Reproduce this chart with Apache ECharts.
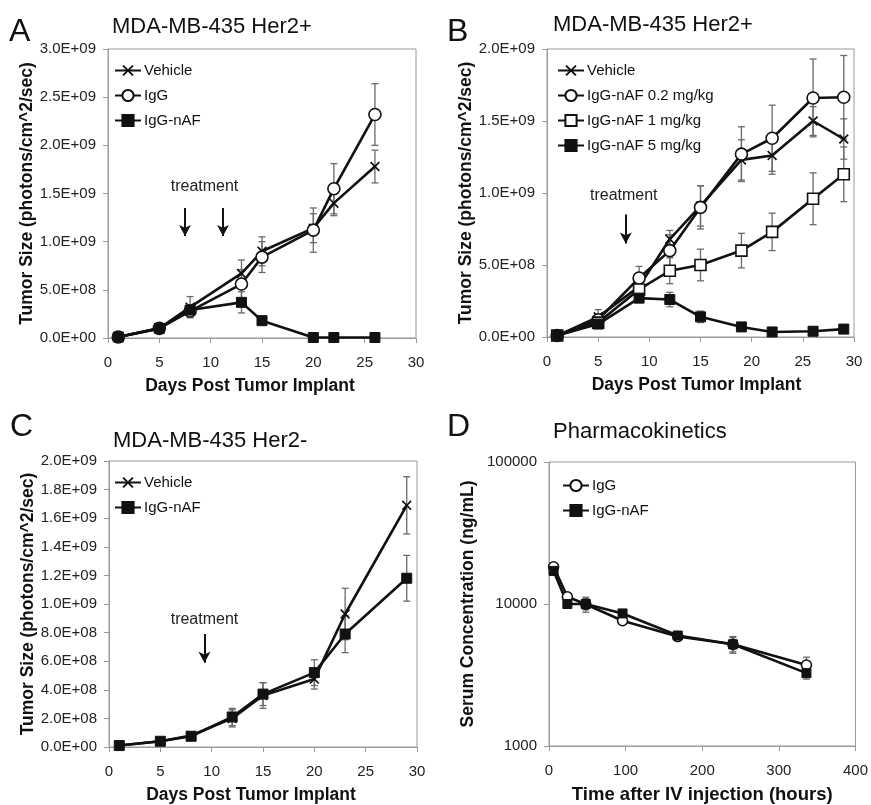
<!DOCTYPE html>
<html>
<head>
<meta charset="utf-8">
<script src="https://cdn.jsdelivr.net/npm/echarts@6/dist/echarts.min.js"></script>
<style>
  html, body { margin: 0; padding: 0; background: #fff; }
  #chart { width: 871px; height: 805px; }
</style>
</head>
<body>
<div id="chart"></div>
<script>
// A: MDA-MB-435 Her2+
const daysA = [1, 5, 8, 13, 15, 20, 22, 26];
const vehA = [0.01e9, 0.10e9, 0.32e9, 0.67e9, 0.90e9, 1.14e9, 1.40e9, 1.78e9];
const vehAErr = [0, 0.01e9, 0.11e9, 0.14e9, 0.15e9, 0.15e9, 0.13e9, 0.17e9];
const iggA = [0.01e9, 0.10e9, 0.28e9, 0.56e9, 0.84e9, 1.12e9, 1.55e9, 2.32e9];
const iggAErr = [0, 0.01e9, 0.06e9, 0.15e9, 0.16e9, 0.23e9, 0.26e9, 0.32e9];
const nafA = [0.01e9, 0.10e9, 0.29e9, 0.37e9, 0.18e9, 0.005e9, 0.005e9, 0.005e9];
const nafAErr = [0, 0.01e9, 0.03e9, 0.11e9, 0.02e9, 0, 0, 0];

// B: MDA-MB-435 Her2+, dose
const daysB = [1, 5, 9, 12, 15, 19, 22, 26, 29];
const vehB = [0.01e9, 0.14e9, 0.35e9, 0.68e9, 0.91e9, 1.23e9, 1.26e9, 1.50e9, 1.375e9];
const vehBErr = [0, 0.05e9, 0.08e9, 0.06e9, 0.14e9, 0.14e9, 0.13e9, 0.10e9, 0.14e9];
const d02B = [0.01e9, 0.12e9, 0.41e9, 0.60e9, 0.90e9, 1.27e9, 1.38e9, 1.66e9, 1.665e9];
const d02BErr = [0, 0.02e9, 0.08e9, 0.11e9, 0.15e9, 0.19e9, 0.23e9, 0.27e9, 0.29e9];
const d1B = [0.01e9, 0.10e9, 0.33e9, 0.46e9, 0.50e9, 0.60e9, 0.73e9, 0.96e9, 1.13e9];
const d1BErr = [0, 0.01e9, 0.04e9, 0.09e9, 0.11e9, 0.12e9, 0.13e9, 0.18e9, 0.19e9];
const d5B = [0.01e9, 0.09e9, 0.27e9, 0.26e9, 0.14e9, 0.07e9, 0.035e9, 0.04e9, 0.055e9];
const d5BErr = [0, 0.01e9, 0.03e9, 0.05e9, 0.04e9, 0.01e9, 0, 0, 0];

// C: MDA-MB-435 Her2-
const daysC = [1, 5, 8, 12, 15, 20, 23, 29];
const vehC = [0.01e9, 0.04e9, 0.08e9, 0.20e9, 0.36e9, 0.475e9, 0.93e9, 1.69e9];
const vehCErr = [0, 0.01e9, 0.01e9, 0.06e9, 0.09e9, 0.07e9, 0.18e9, 0.20e9];
const nafC = [0.01e9, 0.04e9, 0.075e9, 0.21e9, 0.37e9, 0.52e9, 0.79e9, 1.18e9];
const nafCErr = [0, 0.01e9, 0.01e9, 0.06e9, 0.08e9, 0.09e9, 0.13e9, 0.16e9];

// D: Pharmacokinetics
const hoursD = [6, 24, 48, 96, 168, 240, 336];
const iggD = [18300, 11250, 9950, 7620, 5900, 5200, 3720];
const iggDErr = [500, 400, 1200, 300, 300, 700, 500];
const nafD = [17100, 10000, 10000, 8580, 6000, 5200, 3260];
const nafDErr = [700, 400, 900, 400, 300, 600, 300];

// treatment arrows: [x, yFrom, yTo], label [x, y]
const arrowsA = [[7.5, 1.35e9, 1.06e9], [11.2, 1.35e9, 1.06e9]];
const labelA = [9.4, 1.57e9];
const arrowsB = [[7.7, 0.85e9, 0.65e9]];
const labelB = [7.5, 0.98e9];
const arrowsC = [[9.3, 0.79e9, 0.59e9]];
const labelC = [9.3, 0.89e9];

const FONT = '"Liberation Sans", Arial, sans-serif';
const X_SYM = 'path://M0,1.2L1.2,0L5,3.8L8.8,0L10,1.2L6.2,5L10,8.8L8.8,10L5,6.2L1.2,10L0,8.8L3.8,5Z';

function sci(v) {
  if (v === 0) return '0.0E+00';
  const e = Math.floor(Math.log10(Math.abs(v)) + 1e-9);
  const m = v / Math.pow(10, e);
  return m.toFixed(1) + 'E+' + (e < 10 ? '0' + e : e);
}

const grids = [
  { left: 108, top: 49, width: 308, height: 289 },
  { left: 547, top: 49, width: 307, height: 288 },
  { left: 109, top: 461, width: 308, height: 287 },
  { left: 549, top: 462, width: 310, height: 289 }
].map(g => Object.assign(g, { show: true, borderColor: '#9a9a9a', borderWidth: 1 }));

const NAME_STYLE = { fontFamily: FONT, fontWeight: 'bold', fontSize: 17.5, color: '#111' };
const LABEL_STYLE = { fontFamily: FONT, fontSize: 15, color: '#222' };

// shift: pixels to move the x axis name left of the plot centre
function xAx(gi, max, interval, name, shift, size) {
  return {
    type: 'value', gridIndex: gi, min: 0, max: max, interval: interval,
    name: name, nameLocation: 'middle', nameGap: 39,
    nameTextStyle: Object.assign({}, NAME_STYLE, { fontSize: size || 17.5, padding: [0, shift * 2, 0, 0] }),
    axisLine: { lineStyle: { color: '#9a9a9a' } },
    axisTick: { show: true, length: 5, lineStyle: { color: '#9a9a9a' } },
    axisLabel: Object.assign({ margin: 17 }, LABEL_STYLE),
    splitLine: { show: false }
  };
}
function yAx(gi, max, interval, name) {
  return {
    type: 'value', gridIndex: gi, min: 0, max: max, interval: interval,
    name: name, nameLocation: 'middle', nameGap: 72,
    nameTextStyle: NAME_STYLE,
    axisLine: { show: true, lineStyle: { color: '#9a9a9a' } },
    axisTick: { show: true, length: 5, lineStyle: { color: '#9a9a9a' } },
    axisLabel: Object.assign({ margin: 12, formatter: sci }, LABEL_STYLE),
    splitLine: { show: false }
  };
}

const MARK = {
  x: { symbol: X_SYM, symbolSize: 10, itemStyle: { color: '#111' } },
  circle: { symbol: 'circle', symbolSize: 12, itemStyle: { color: '#fff', borderColor: '#111', borderWidth: 1.6 } },
  open: { symbol: 'rect', symbolSize: 11, itemStyle: { color: '#fff', borderColor: '#111', borderWidth: 1.6 } },
  filled: { symbol: 'rect', symbolSize: 10, itemStyle: { color: '#111', borderColor: '#111', borderWidth: 1 } }
};

const series = [];
function addSeries(gi, name, xs, ys, errs, mark, extra) {
  series.push({
    type: 'custom', xAxisIndex: gi, yAxisIndex: gi, silent: true, z: 1,
    data: xs.map((x, i) => [x, ys[i], errs[i]]),
    encode: { x: 0, y: 1 },
    renderItem: function (params, api) {
      const x = api.value(0), y = api.value(1), e = api.value(2);
      if (!e) return null;
      const t = api.coord([x, y + e]), b = api.coord([x, y - e]);
      const w = 3.5, st = { stroke: '#6a6a6a', lineWidth: 1.3 };
      return { type: 'group', children: [
        { type: 'line', shape: { x1: t[0], y1: t[1], x2: b[0], y2: b[1] }, style: st },
        { type: 'line', shape: { x1: t[0] - w, y1: t[1], x2: t[0] + w, y2: t[1] }, style: st },
        { type: 'line', shape: { x1: b[0] - w, y1: b[1], x2: b[0] + w, y2: b[1] }, style: st }
      ] };
    }
  });
  series.push(Object.assign({
    type: 'line', name: name, xAxisIndex: gi, yAxisIndex: gi, z: 3,
    data: xs.map((x, i) => [x, ys[i]]),
    showAllSymbol: true,
    lineStyle: { color: '#111', width: 2.6 },
    symbol: mark.symbol, symbolSize: mark.symbolSize, itemStyle: mark.itemStyle,
    emphasis: { disabled: true }
  }, extra || {}));
}

function treatment(arrows, label) {
  return {
    markLine: {
      silent: true, animation: false, symbol: ['none', 'arrow'], symbolSize: [9, 11],
      lineStyle: { color: '#111', width: 2, type: 'solid' }, label: { show: false },
      data: arrows.map(a => [{ coord: [a[0], a[1]] }, { coord: [a[0], a[2]] }])
    },
    markPoint: {
      silent: true, animation: false, symbol: 'rect', symbolSize: 1,
      itemStyle: { color: 'rgba(0,0,0,0)' },
      label: { show: true, position: 'inside', formatter: 'treatment', fontFamily: FONT, fontSize: 16, color: '#222' },
      data: [{ coord: label }]
    }
  };
}

addSeries(0, 'Vehicle', daysA, vehA, vehAErr, MARK.x, treatment(arrowsA, labelA));
addSeries(0, 'IgG', daysA, iggA, iggAErr, MARK.circle);
addSeries(0, 'IgG-nAF', daysA, nafA, nafAErr, MARK.filled);

addSeries(1, 'Vehicle', daysB, vehB, vehBErr, MARK.x, treatment(arrowsB, labelB));
addSeries(1, 'IgG-nAF 0.2 mg/kg', daysB, d02B, d02BErr, MARK.circle);
addSeries(1, 'IgG-nAF 1 mg/kg', daysB, d1B, d1BErr, MARK.open);
addSeries(1, 'IgG-nAF 5 mg/kg', daysB, d5B, d5BErr, MARK.filled);

addSeries(2, 'Vehicle', daysC, vehC, vehCErr, MARK.x, treatment(arrowsC, labelC));
addSeries(2, 'IgG-nAF', daysC, nafC, nafCErr, MARK.filled);

addSeries(3, 'IgG', hoursD, iggD, iggDErr, Object.assign({}, MARK.circle, { symbolSize: 10 }));
addSeries(3, 'IgG-nAF', hoursD, nafD, nafDErr, Object.assign({}, MARK.filled, { symbolSize: 9 }));

function leg(left, top, names) {
  return {
    left: left, top: top, orient: 'vertical', itemWidth: 26, itemHeight: 14, itemGap: 10,
    selectedMode: false, data: names, padding: 0,
    textStyle: { fontFamily: FONT, fontSize: 15, color: '#111', padding: [0, 0, 0, -2] }
  };
}

function ttl(text, left, top, size) {
  return { text: text, left: left, top: top, padding: 0,
    textStyle: { fontFamily: FONT, fontWeight: 'normal', fontSize: size, color: '#111' } };
}

const chart = echarts.init(document.getElementById('chart'));
chart.setOption({
  animation: false,
  backgroundColor: '#fff',
  title: [
    ttl('A', 9, 16, 32), ttl('MDA-MB-435 Her2+', 112, 16, 22),
    ttl('B', 447, 16, 32), ttl('MDA-MB-435 Her2+', 553, 14, 22),
    ttl('C', 10, 411, 32), ttl('MDA-MB-435 Her2-', 113, 430, 22),
    ttl('D', 447, 411, 32), ttl('Pharmacokinetics', 553, 421, 22)
  ],
  legend: [
    leg(114, 63, ['Vehicle', 'IgG', 'IgG-nAF']),
    leg(557, 63, ['Vehicle', 'IgG-nAF 0.2 mg/kg', 'IgG-nAF 1 mg/kg', 'IgG-nAF 5 mg/kg']),
    leg(114, 475, ['Vehicle', 'IgG-nAF']),
    leg(562, 478, ['IgG', 'IgG-nAF'])
  ],
  grid: grids,
  xAxis: [
    xAx(0, 30, 5, 'Days Post Tumor Implant', 12),
    xAx(1, 30, 5, 'Days Post Tumor Implant', 4),
    xAx(2, 30, 5, 'Days Post Tumor Implant', 12),
    xAx(3, 400, 100, 'Time after IV injection (hours)', 0, 18.5)
  ],
  yAxis: [
    yAx(0, 3e9, 5e8, 'Tumor Size (photons/cm^2/sec)'),
    yAx(1, 2e9, 5e8, 'Tumor Size (photons/cm^2/sec)'),
    yAx(2, 2e9, 2e8, 'Tumor Size (photons/cm^2/sec)'),
    Object.assign(yAx(3, 100000, null, 'Serum Concentration (ng/mL)'), {
      type: 'log', logBase: 10, min: 1000, max: 100000, interval: undefined,
      axisLabel: Object.assign({ margin: 12, formatter: v => String(Math.round(v)) }, LABEL_STYLE)
    })
  ],
  series: series
});
</script>
</body>
</html>
